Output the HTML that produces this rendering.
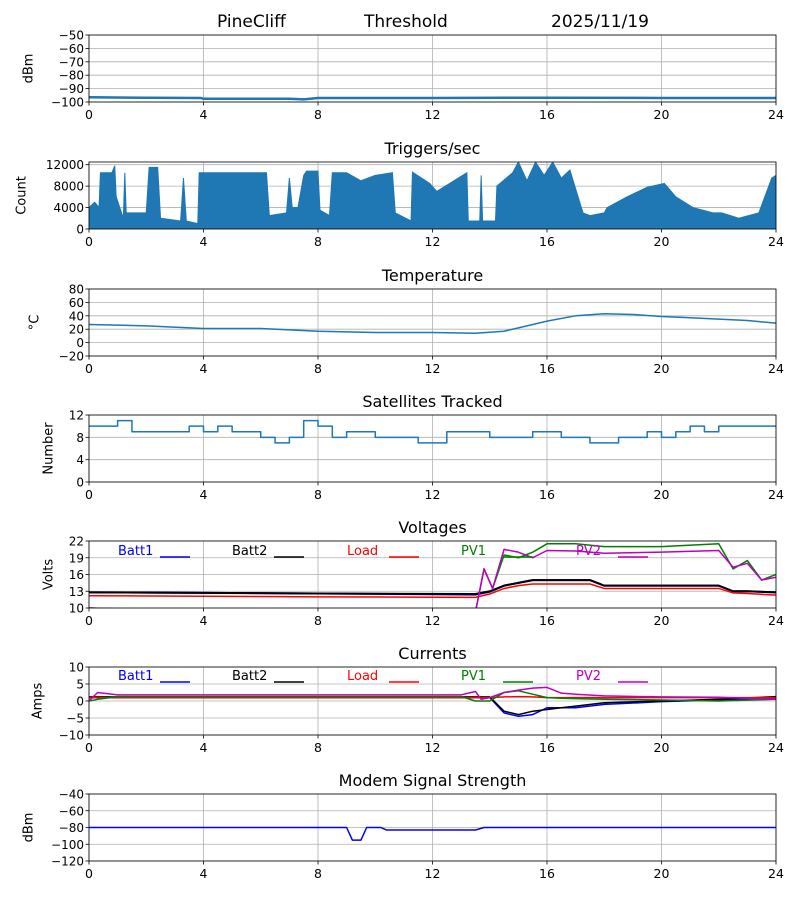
<!DOCTYPE html>
<html><head><meta charset="utf-8">
<style>
body{margin:0;background:#fff;}
svg{display:block;font-family:"DejaVu Sans","Liberation Sans",sans-serif;}
</style></head>
<body>
<svg id="chart" width="800" height="900" viewBox="0 0 800 900" xmlns="http://www.w3.org/2000/svg">
<text x="217" y="27" font-size="17">PineCliff</text>
<text x="364" y="27" font-size="17">Threshold</text>
<text x="551" y="27" font-size="17">2025/11/19</text>
</svg>
<script>
// ---- data ----
const xTicks = [0,4,8,12,16,20,24];
const rssiHours = [0,2,3.9,4,7,7.5,8,12,16,20,24];
const rssiVals = [-96.5,-96.8,-97,-97.6,-97.6,-98,-97,-97,-96.8,-97,-97];
const trigHours = [0,0.2,0.35,0.4,0.8,0.9,0.95,1.2,1.25,1.3,2.0,2.1,2.4,2.5,3.2,3.3,3.4,3.8,3.85,6.2,6.3,6.9,7.0,7.1,7.3,7.5,7.6,8.0,8.07,8.4,8.5,9,9.5,10,10.6,10.7,11.25,11.3,11.9,12.15,13.2,13.25,13.65,13.7,13.75,14.2,14.25,14.8,15.0,15.3,15.6,15.9,16.2,16.5,16.8,17.2,17.26,17.5,18.0,18.1,18.8,19.5,20.1,20.5,21.1,21.8,22.1,22.7,23.4,23.85,24];
const trigVals = [4000,5000,4000,10500,10500,11800,6000,2000,10500,3000,3000,11500,11500,2000,1500,9500,1500,1000,10500,10500,2500,3000,9500,4000,4000,10000,10800,10800,3500,2500,10500,10500,9000,10000,10500,3000,1500,10600,8500,7000,10500,1500,1500,10000,1500,1500,8000,10500,12500,9000,12500,10000,12500,9500,11000,4000,3000,2500,3000,4000,6000,7800,8500,6000,4000,3000,3000,2000,3000,9500,10000];
const tempHours = [0,2,4,6,8,10,12,13.5,14.5,15,16,17,18,19,20,21,22,23,24];
const tempVals = [27,25,21,21,17,15,15,14,17,22,32,40,43,42,39,37,35,33,29];
const satVals = [10,10,11,9,9,9,9,10,9,10,9,9,8,7,8,11,10,8,9,9,8,8,8,7,7,9,9,9,8,8,8,9,9,8,8,7,7,8,8,9,8,9,10,9,10,10,10,10,10];
const voltSeriesNames = ["Batt1","Batt2","Load","PV1","PV2"];
const voltColors = ["#0000ff","#000000","#ff0000","#008000","#bf00bf"];
const vHours = [0,4,8,13.5,14,14.5,15,15.5,16,17,17.5,18,20,22,22.5,23,24];
const vBatt1 = [12.8,12.7,12.6,12.4,12.9,14,14.5,15,15,15,15,14,14,14,13,13,12.8];
const vBatt2 = [12.8,12.7,12.6,12.5,13,14,14.5,15,15,15,15,14,14,14,13,13,12.8];
const vLoad = [12.2,12.1,12,11.9,12.5,13.5,14,14.3,14.3,14.3,14.3,13.5,13.5,13.5,12.7,12.6,12.3];
const pvHours = [0,13.45,13.8,14.1,14.5,15,15.5,16,17,18,20,22,22.5,23,23.5,24];
const vPV1 = [10,8,17,13.5,19.5,19,20,21.5,21.5,21,21,21.5,17,18.5,15,16];
const vPV2 = [10,8,17,13.5,20.5,20,19,20.3,20.2,19.8,20,20.3,17.3,18,15,15.5];
const cHours = [0,0.3,1,6,13,13.5,13.7,14,14.5,15,15.5,16,16.5,17,18,20,22,24];
const cBatt1 = [1,1,1,1,1,1,1,1,-3.5,-4.5,-4,-2,-2,-2,-1,-0.2,0.3,1];
const cBatt2 = [1.2,1.2,1.2,1.2,1.2,1.2,1.2,1.2,-3,-4,-3,-2.5,-2,-1.5,-0.5,0,0.5,1.3];
const cLoad = [1,1,1,1,1,1,1,1,1.2,1.3,1.2,1,1,1,1,1,1,1];
const cPV1 = [0,0.5,1.3,1.3,1.3,0,0,0,2.5,3,2,1,0.8,0.7,0.5,0.3,0,0.5];
const cPV2 = [0,2.5,1.8,1.8,1.8,2.8,0.5,1,2.5,3.2,3.8,4,2.3,2,1.5,1.2,1.1,0.5];
const modemHours = [0,9,9.2,9.5,9.7,10.2,10.4,13.5,13.8,24];
const modemVals = [-80,-80,-95,-95,-80,-80,-83,-83,-80,-80];

// ---- layout ----
const svg = document.getElementById('chart');
const NS = 'http://www.w3.org/2000/svg';
const X0 = 89, X1 = 776;
function mk(tag, attrs, parent){const e=document.createElementNS(NS,tag);for(const k in attrs)e.setAttribute(k,attrs[k]);(parent||svg).appendChild(e);return e;}
const sx = h => X0 + (h/24)*(X1-X0);

function panel(key, top, bot, ymin, ymax, yticks, ylabel, title, ylx){
  const g = mk('g',{});
  
  
  const sy = v => bot - (v-ymin)/(ymax-ymin)*(bot-top);
  xTicks.forEach(t=>{
    const l=mk('line',{x1:sx(t),x2:sx(t),y1:top,y2:bot,stroke:'#b0b0b0','stroke-width':0.8},g);
    
    
    mk('line',{x1:sx(t),x2:sx(t),y1:bot,y2:bot+3.5,stroke:'#000','stroke-width':0.8},g);
    const tx=mk('text',{x:sx(t),y:bot+17,'font-size':12.5,'text-anchor':'middle'},g);
    tx.textContent=t;
    
    
  });
  yticks.forEach(t=>{
    const y=sy(t);
    const l=mk('line',{x1:X0,x2:X1,y1:y,y2:y,stroke:'#b0b0b0','stroke-width':0.8},g);
    
    
    mk('line',{x1:X0-3.5,x2:X0,y1:y,y2:y,stroke:'#000','stroke-width':0.8},g);
    const tx=mk('text',{x:X0-5,y:y+4.5,'font-size':12,'text-anchor':'end'},g);
    tx.textContent=String(t).replace('-','\u2212');
    
    
  });
  const yl=mk('text',{transform:`translate(${ylx+4.5},${(top+bot)/2}) rotate(-90)`,'font-size':13,'text-anchor':'middle'},g);
  yl.textContent=ylabel;
  
  
  if(title){
    const tt=mk('text',{x:(X0+X1)/2,y:top-8,'font-size':16,'text-anchor':'middle'},g);
    tt.textContent=title;
    
    
  }
  const clipId='clip-'+key;
  const cp=mk('clipPath',{id:clipId},g);
  mk('rect',{x:X0,y:top,width:X1-X0,height:bot-top},cp);
  const plot=mk('g',{'clip-path':`url(#${clipId})`},g);
  const frame=mk('rect',{x:X0,y:top,width:X1-X0,height:bot-top,fill:'none',stroke:'#000','stroke-width':0.8},g);
  
  
  return {g,plot,sy};
}
function line(p, hours, vals, color, name, w, step){
  let pts=[];
  for(let i=0;i<vals.length;i++){
    const x=sx(hours[i]), y=p.sy(vals[i]);
    if(step && i>0) pts.push(x+','+p.sy(vals[i-1]));
    pts.push(x+','+y);
  }
  const pl=mk('polyline',{points:pts.join(' '),fill:'none',stroke:color,'stroke-width':w||1.5,'stroke-linejoin':'round'},p.plot);
  
  
}
function legend(p, y){
  const lx=[118,232,347,461,576];
  voltSeriesNames.forEach((n,i)=>{
    const t=mk('text',{x:lx[i],y:y,'font-size':13,fill:voltColors[i]},p.g);
    t.textContent=n;
    
    
    mk('line',{x1:lx[i]+42,x2:lx[i]+72,y1:y+2,y2:y+2,stroke:voltColors[i],'stroke-width':1.5},p.g);
  });
}

// panel 1
const p1=panel('rssi',35,102,-100,-50,[-50,-60,-70,-80,-90,-100],'dBm','',28);
line(p1,rssiHours,rssiVals,'#1f77b4','rssi-line',2.5);

// panel 2
const p2=panel('triggers',162,229,0,12500,[0,4000,8000,12000],'Count','Triggers/sec',21);
{
  let pts=[sx(0)+','+p2.sy(0)];
  trigHours.forEach((h,i)=>pts.push(sx(h)+','+p2.sy(trigVals[i])));
  pts.push(sx(24)+','+p2.sy(0));
  const pg=mk('polygon',{points:pts.join(' '),fill:'#1f77b4',stroke:'#1f77b4','stroke-width':1},p2.plot);
  
  
}

// panel 3
const p3=panel('temperature',289,356,-20,80,[80,60,40,20,0,-20],'\u00B0C','Temperature',34);
line(p3,tempHours,tempVals,'#1f77b4','temperature-line',1.5);

// panel 4
const p4=panel('satellites',415,482,0,12,[0,4,8,12],'Number','Satellites Tracked',48);
line(p4,satVals.map((v,i)=>i*0.5),satVals,'#1f77b4','satellites-line',1.5,true);

// panel 5
const p5=panel('voltages',541,608,10,22,[10,13,16,19,22],'Volts','Voltages',48);
line(p5,vHours,vBatt1,voltColors[0],'batt1-voltage-line',2);
line(p5,vHours,vBatt2,voltColors[1],'batt2-voltage-line',2);
line(p5,vHours,vLoad,voltColors[2],'load-voltage-line',1.5);
line(p5,pvHours,vPV1,voltColors[3],'pv1-voltage-line',1.5);
line(p5,pvHours,vPV2,voltColors[4],'pv2-voltage-line',1.5);
legend(p5,555);

// panel 6
const p6=panel('currents',667,735,-10,10,[10,5,0,-5,-10],'Amps','Currents',37);
line(p6,cHours,cBatt1,voltColors[0],'batt1-current-line',1.5);
line(p6,cHours,cBatt2,voltColors[1],'batt2-current-line',1.5);
line(p6,cHours,cLoad,voltColors[2],'load-current-line',1.5);
line(p6,cHours,cPV1,voltColors[3],'pv1-current-line',1.5);
line(p6,cHours,cPV2,voltColors[4],'pv2-current-line',1.5);
legend(p6,680);

// panel 7
const p7=panel('modem',794,861,-120,-40,[-40,-60,-80,-100,-120],'dBm','Modem Signal Strength',28);
line(p7,modemHours,modemVals,'#0000ff','modem-signal-line',1.5);
</script>
</body></html>
